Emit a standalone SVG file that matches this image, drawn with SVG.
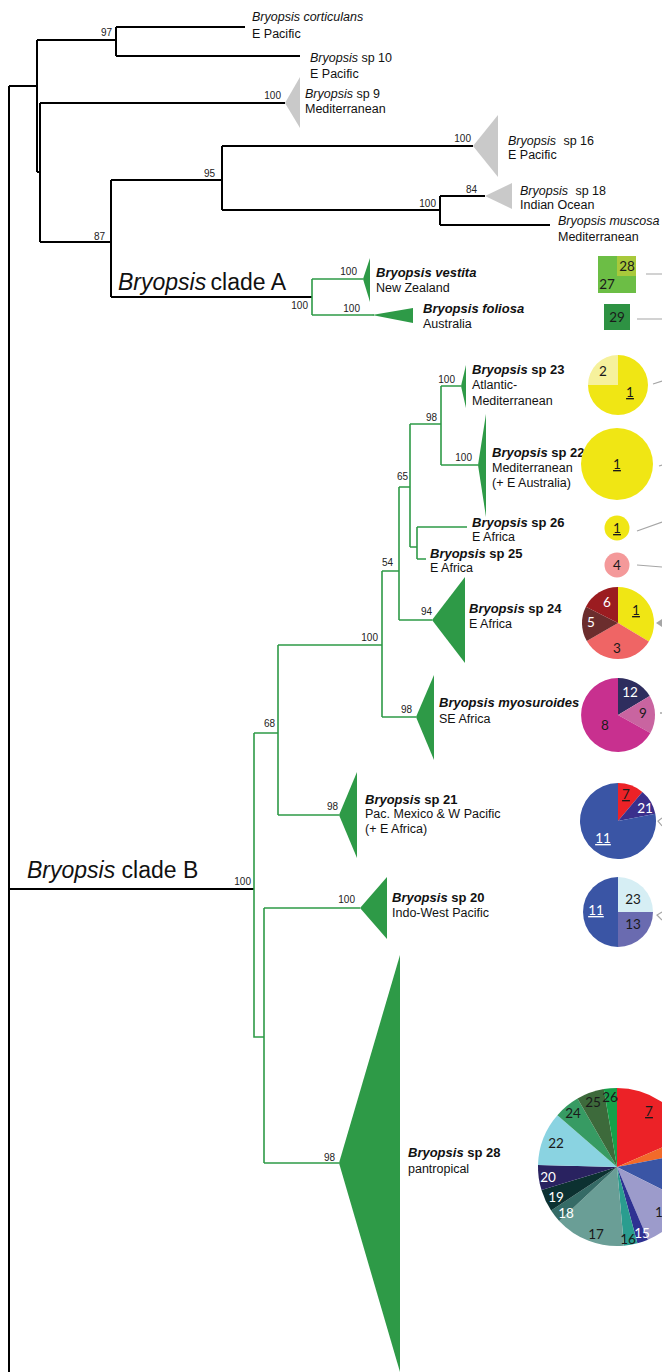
<svg xmlns="http://www.w3.org/2000/svg" width="662" height="1372" viewBox="0 0 662 1372">
<style>
.bk{fill:none;stroke:#000;stroke-width:2}
.gr{fill:none;stroke:#2e9a47;stroke-width:1.6}
.gt{fill:#c9c9c9}
.grt{fill:#2e9a47}
.bs{font-family:"Liberation Sans",Arial,sans-serif;font-size:10px;fill:#222;text-anchor:end}
.lb{font-family:"Liberation Sans",Arial,sans-serif;font-size:12.5px;fill:#111}
.lbb{font-family:"Liberation Sans",Arial,sans-serif;font-size:13px;fill:#111;font-weight:bold}
.it{font-style:italic}
.cl{font-family:"Liberation Sans",Arial,sans-serif;font-size:23px;fill:#111}
.pn{font-family:Lato,"Open Sans",sans-serif;font-size:13.5px;fill:#1a1a1a;text-anchor:middle}
.pw{font-family:Lato,"Open Sans",sans-serif;font-size:13.5px;fill:#fff;text-anchor:middle}
.u{text-decoration:underline}
.ar{fill:none;stroke:#a6a6a6;stroke-width:1.2}
</style>
<rect width="662" height="1372" fill="#fff"/>
<g id="connectors">
<path class="bk" d="M9,86 V1372 M9,86 H37 M37,40 V172 M37,40 H116 M116,27 V56 M116,27 H245 M116,56 H300 M37,172 H40 M40,103 V242 M40,103 H285 M40,242 H111 M111,180 V297 M111,180 H222 M222,146 V210 M222,146 H473 M222,210 H440 M440,196 V225 M440,196 H485 M440,225 H550 M111,297 H312 M9,889 H254"/>
<path class="gr" d="M312,279 V315 M312,279 H363 M312,315 H374 M254,733 V1037 H264 M254,733 H278 M278,645 V815 M278,645 H382 M278,815 H339 M382,571 V717 M382,571 H399 M382,717 H416 M399,487 V620 M399,487 H410 M399,620 H432 M410,424 V547 M410,424 H441 M410,547 H417 M441,386 V465 M441,386 H461 M441,465 H478 M417,527 V559 M417,527 H467 M417,559 H426 M264,908 V1163 M264,908 H360 M264,1163 H339"/>
<path class="ar" d="M646,274 H662 M637,319 H662 M653,384 L662,381 M659,466 L662,465 M637,531 L662,522 M637,565 L662,567 M662,818 L658,821 L662,826 M662,912 L657,915 L662,920"/>
<polygon points="656,623 662,619 662,627" fill="#a6a6a6"/>
<circle cx="661" cy="713" r="1" fill="#a6a6a6"/>
</g>
<g id="bootstrap">
<text class="bs" x="112" y="36">97</text>
<text class="bs" x="281" y="99">100</text>
<text class="bs" x="215" y="177">95</text>
<text class="bs" x="471" y="142">100</text>
<text class="bs" x="477" y="193">84</text>
<text class="bs" x="436" y="207">100</text>
<text class="bs" x="105" y="240">87</text>
<text class="bs" x="357" y="275">100</text>
<text class="bs" x="308" y="309">100</text>
<text class="bs" x="360" y="312">100</text>
<text class="bs" x="455" y="383">100</text>
<text class="bs" x="437" y="421">98</text>
<text class="bs" x="472" y="461">100</text>
<text class="bs" x="408" y="480">65</text>
<text class="bs" x="393" y="566">54</text>
<text class="bs" x="432" y="615">94</text>
<text class="bs" x="378" y="641">100</text>
<text class="bs" x="412" y="713">98</text>
<text class="bs" x="275" y="727">68</text>
<text class="bs" x="338" y="810">98</text>
<text class="bs" x="251" y="885">100</text>
<text class="bs" x="355" y="903">100</text>
<text class="bs" x="335" y="1161">98</text>
</g>
<g id="clade-labels">
<text class="cl" x="118" y="290"><tspan class="it">Bryopsis</tspan><tspan dx="-2"> clade A</tspan></text>
<text class="cl" x="27" y="878"><tspan class="it">Bryopsis</tspan> clade B</text>
</g>
<g id="n-corticulans">
<text class="lb" x="252" y="21"><tspan class="it">Bryopsis corticulans</tspan></text>
<text class="lb" x="252" y="38">E Pacific</text>
</g>
<g id="n-sp10">
<text class="lb" x="310" y="62"><tspan class="it">Bryopsis</tspan> sp 10</text>
<text class="lb" x="310" y="78">E Pacific</text>
</g>
<g id="n-sp9">
<polygon class="gt" points="285,103 300,77 300,128"/>
<text class="lb" x="305" y="98"><tspan class="it">Bryopsis</tspan> sp 9</text>
<text class="lb" x="305" y="113">Mediterranean</text>
</g>
<g id="n-sp16">
<polygon class="gt" points="473,146 498,115 498,177"/>
<text class="lb" x="508" y="145"><tspan class="it">Bryopsis</tspan><tspan dx="4"> sp 16</tspan></text>
<text class="lb" x="508" y="159">E Pacific</text>
</g>
<g id="n-sp18">
<polygon class="gt" points="485,196 512,183 512,209"/>
<text class="lb" x="520" y="195"><tspan class="it">Bryopsis</tspan><tspan dx="4"> sp 18</tspan></text>
<text class="lb" x="520" y="209">Indian Ocean</text>
</g>
<g id="n-muscosa">
<text class="lb" x="558" y="225"><tspan class="it">Bryopsis muscosa</tspan></text>
<text class="lb" x="558" y="241">Mediterranean</text>
</g>
<g id="n-vestita">
<polygon class="grt" points="363,279 370,258 370,302"/>
<text class="lbb" x="376" y="277"><tspan class="it">Bryopsis vestita</tspan></text>
<text class="lb" x="376" y="292">New Zealand</text>
<rect x="598" y="256" width="38" height="37" fill="#6cbe45"/>
<rect x="617" y="256" width="19" height="20" fill="#a8c93b"/>
<text class="pn" x="627" y="271">28</text>
<text class="pn" x="607" y="289">27</text>
</g>
<g id="n-foliosa">
<polygon class="grt" points="372,315 413,308 413,323"/>
<text class="lbb" x="423" y="313"><tspan class="it">Bryopsis foliosa</tspan></text>
<text class="lb" x="423" y="328">Australia</text>
<rect x="604" y="304" width="26" height="26" fill="#2e9243"/>
<text class="pn" x="617" y="322">29</text>
</g>
<g id="n-sp23">
<polygon class="grt" points="461,386 466,365 466,408"/>
<text class="lbb" x="472" y="374"><tspan class="it">Bryopsis</tspan> sp 23</text>
<text class="lb" x="472" y="389">Atlantic-</text>
<text class="lb" x="472" y="405">Mediterranean</text>
<path d="M618,385 L618,355 A30,30 0 1 1 588,385 Z" fill="#f0e614"/>
<path d="M618,385 L588,385 A30,30 0 0 1 618,355 Z" fill="#f6f19c"/>
<text class="pn" x="603" y="376">2</text>
<text class="pn u" x="630" y="397">1</text>
</g>
<g id="n-sp22">
<polygon class="grt" points="478,465 486,414 486,517"/>
<text class="lbb" x="492" y="457"><tspan class="it">Bryopsis</tspan> sp 22</text>
<text class="lb" x="492" y="472">Mediterranean</text>
<text class="lb" x="492" y="487">(+ E Australia)</text>
<circle cx="617" cy="464" r="36" fill="#f0e614"/>
<text class="pn u" x="617" y="469">1</text>
</g>
<g id="n-sp26">
<text class="lbb" x="472" y="527"><tspan class="it">Bryopsis</tspan> sp 26</text>
<text class="lb" x="472" y="541">E Africa</text>
<circle cx="617" cy="528" r="12.5" fill="#f0e614"/>
<text class="pn u" x="617" y="533">1</text>
</g>
<g id="n-sp25">
<text class="lbb" x="430" y="558"><tspan class="it">Bryopsis</tspan> sp 25</text>
<text class="lb" x="430" y="572">E Africa</text>
<circle cx="617" cy="565" r="12.5" fill="#f4999a"/>
<text class="pn" x="617" y="570">4</text>
</g>
<g id="n-sp24">
<polygon class="grt" points="432,620 465,577 465,663"/>
<text class="lbb" x="469" y="613"><tspan class="it">Bryopsis</tspan> sp 24</text>
<text class="lb" x="469" y="628">E Africa</text>
<path d="M618,623 L618,587 A36,36 0 0 1 648.9,641.5 Z" fill="#f0e614"/>
<path d="M618,623 L648.9,641.5 A36,36 0 0 1 586.8,641 Z" fill="#ef6565"/>
<path d="M618,623 L586.8,641 A36,36 0 0 1 585.9,606.7 Z" fill="#6b2d2d"/>
<path d="M618,623 L585.9,606.7 A36,36 0 0 1 618,587 Z" fill="#9b1c20"/>
<text class="pn u" x="636" y="615">1</text>
<text class="pn" x="617" y="653">3</text>
<text class="pw" x="591" y="627">5</text>
<text class="pw" x="607" y="607">6</text>
</g>
<g id="n-myosuroides">
<polygon class="grt" points="416,717 434,675 434,760"/>
<text class="lbb" x="439" y="707"><tspan class="it">Bryopsis myosuroides</tspan></text>
<text class="lb" x="439" y="723">SE Africa</text>
<path d="M618,715 L618,678 A37,37 0 0 1 649.7,696 Z" fill="#2e2d5e"/>
<path d="M618,715 L649.7,696 A37,37 0 0 1 650.4,733 Z" fill="#c964a0"/>
<path d="M618,715 L650.4,733 A37,37 0 1 1 618,678 Z" fill="#c8308f"/>
<text class="pw" x="630" y="697">12</text>
<text class="pn" x="643" y="718">9</text>
<text class="pn" x="605" y="730">8</text>
</g>
<g id="n-sp21">
<polygon class="grt" points="339,815 357,772 357,858"/>
<text class="lbb" x="365" y="804"><tspan class="it">Bryopsis</tspan> sp 21</text>
<text class="lb" x="365" y="818">Pac. Mexico &amp; W Pacific</text>
<text class="lb" x="365" y="833">(+ E Africa)</text>
<path d="M618,821 L618,783 A38,38 0 0 1 642.4,791.9 Z" fill="#ec2227"/>
<path d="M618,821 L642.4,791.9 A38,38 0 0 1 655.3,813.7 Z" fill="#3b2f8c"/>
<path d="M618,821 L655.3,813.7 A38,38 0 1 1 618,783 Z" fill="#3a55a5"/>
<text class="pn u" x="626" y="799">7</text>
<text class="pw" x="645" y="813">21</text>
<text class="pw u" x="603" y="843">11</text>
</g>
<g id="n-sp20">
<polygon class="grt" points="360,908 387,877 387,939"/>
<text class="lbb" x="392" y="902"><tspan class="it">Bryopsis</tspan> sp 20</text>
<text class="lb" x="392" y="917">Indo-West Pacific</text>
<path d="M618,912 L618,877 A35,35 0 0 1 653,912 Z" fill="#d6eef4"/>
<path d="M618,912 L653,912 A35,35 0 0 1 618,947 Z" fill="#6a6bb0"/>
<path d="M618,912 L618,947 A35,35 0 0 1 618,877 Z" fill="#3a55a5"/>
<text class="pn" x="633" y="904">23</text>
<text class="pn" x="633" y="929">13</text>
<text class="pw u" x="596" y="915">11</text>
</g>
<g id="n-sp28">
<polygon class="grt" points="339,1163 400,955 400,1372"/>
<text class="lbb" x="408" y="1157"><tspan class="it">Bryopsis</tspan> sp 28</text>
<text class="lb" x="408" y="1173">pantropical</text>
<path d="M617,1167 L617,1088 A79,79 0 0 1 689.4,1135.5 Z" fill="#ec2227"/>
<path d="M617,1167 L689.4,1135.5 A79,79 0 0 1 694.5,1151.9 Z" fill="#f26a2a"/>
<path d="M617,1167 L694.5,1151.9 A79,79 0 0 1 687.6,1202.4 Z" fill="#3a55a5"/>
<path d="M617,1167 L687.6,1202.4 A79,79 0 0 1 647.9,1239.7 Z" fill="#9c9bcb"/>
<path d="M617,1167 L647.9,1239.7 A79,79 0 0 1 637.4,1243.3 Z" fill="#2e3192"/>
<path d="M617,1167 L637.4,1243.3 A79,79 0 0 1 623.9,1245.7 Z" fill="#2a9d8f"/>
<path d="M617,1167 L623.9,1245.7 A79,79 0 0 1 559.2,1220.9 Z" fill="#6a9e96"/>
<path d="M617,1167 L559.2,1220.9 A79,79 0 0 1 551.1,1210.6 Z" fill="#356b66"/>
<path d="M617,1167 L551.1,1210.6 A79,79 0 0 1 541.5,1190.1 Z" fill="#0c3131"/>
<path d="M617,1167 L541.5,1190.1 A79,79 0 0 1 538,1164.9 Z" fill="#292260"/>
<path d="M617,1167 L538,1164.9 A79,79 0 0 1 557.4,1115.2 Z" fill="#8ad3e1"/>
<path d="M617,1167 L557.4,1115.2 A79,79 0 0 1 577.5,1098.6 Z" fill="#379b63"/>
<path d="M617,1167 L577.5,1098.6 A79,79 0 0 1 603.8,1089.1 Z" fill="#3d6a3b"/>
<path d="M617,1167 L603.8,1089.1 A79,79 0 0 1 617,1088 Z" fill="#16a04a"/>
<text class="pn u" x="649" y="1116">7</text>
<text class="pn" x="610" y="1102">26</text>
<text class="pn" x="593" y="1107">25</text>
<text class="pn" x="573" y="1118">24</text>
<text class="pn" x="556" y="1148">22</text>
<text class="pw" x="548" y="1182">20</text>
<text class="pw" x="556" y="1202">19</text>
<text class="pw" x="566" y="1218">18</text>
<text class="pn" x="596" y="1239">17</text>
<text class="pn" x="628" y="1244">16</text>
<text class="pw" x="642" y="1238">15</text>
<text class="pn" x="659" y="1217">1</text>
</g>
</svg>
